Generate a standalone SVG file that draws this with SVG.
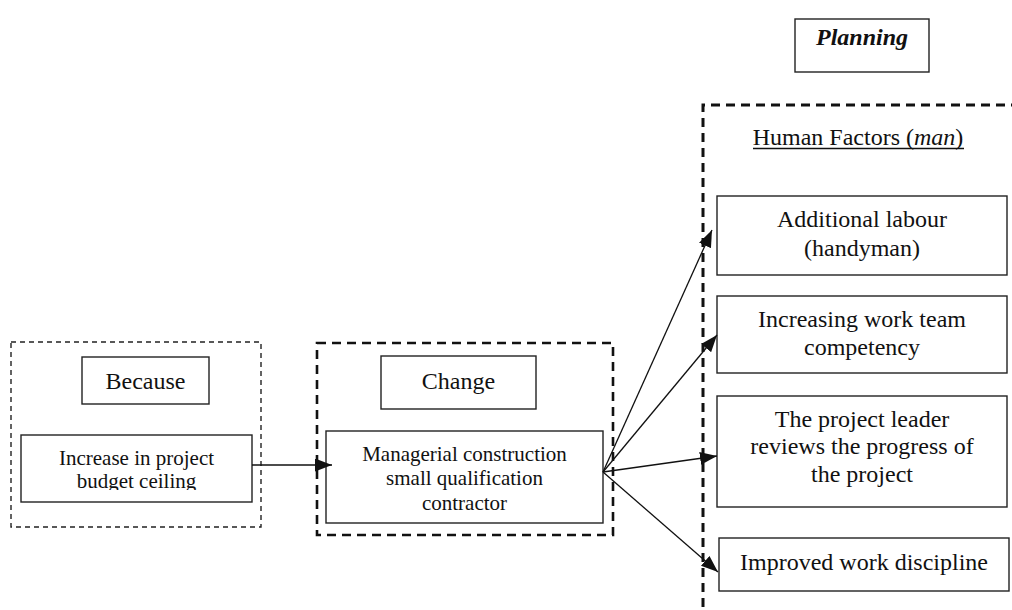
<svg xmlns="http://www.w3.org/2000/svg" width="1012" height="610" viewBox="0 0 1012 610">
<style>
.box{fill:#fff;stroke:#222;stroke-width:1.4}
.t{font-family:"Liberation Serif","Times New Roman",serif;fill:#111;text-anchor:middle}
.s21{font-size:21px}
.s24{font-size:24px}
.conn{stroke:#111;stroke-width:1.3;fill:none}
</style>
<defs>
<marker id="ah" markerUnits="userSpaceOnUse" markerWidth="17" markerHeight="13" refX="17" refY="6.5" orient="auto">
<path d="M0,0 L17,6.5 L0,13 z" fill="#111"/>
</marker>
<clipPath id="clipInc"><rect x="21" y="435" width="231" height="55"/></clipPath>
</defs>
<rect width="1012" height="610" fill="#fff"/>

<g id="because-group">
<rect x="11" y="342" width="250" height="185" fill="none" stroke="#222" stroke-width="1.4" stroke-dasharray="5,4"/>
</g>
<g id="because">
<rect class="box" x="82" y="357" width="127" height="47"/>
<text class="t s24" x="145.5" y="389">Because</text>
</g>
<g id="increase">
<rect class="box" x="21" y="435" width="231" height="67"/>
<g clip-path="url(#clipInc)">
<text class="t s21" x="136.5" y="465">Increase in project</text>
<text class="t s21" x="136.5" y="488">budget ceiling</text>
</g>
</g>

<g id="change-group">
<rect x="317" y="343" width="296" height="192" fill="none" stroke="#111" stroke-width="2.6" stroke-dasharray="9,6"/>
</g>
<g id="change">
<rect class="box" x="381" y="356" width="155" height="53"/>
<text class="t s24" x="458.5" y="389">Change</text>
</g>
<g id="managerial">
<rect class="box" x="326" y="431" width="277" height="92"/>
<text class="t s21" x="464.5" y="461">Managerial construction</text>
<text class="t s21" x="464.5" y="485">small qualification</text>
<text class="t s21" x="464.5" y="510">contractor</text>
</g>

<g id="planning">
<rect class="box" x="795" y="19" width="134" height="53"/>
<text class="t s24" x="862" y="45" font-weight="bold" font-style="italic">Planning</text>
</g>

<g id="human-factors-group">
<path d="M1020,105 H703 V612" fill="none" stroke="#111" stroke-width="3" stroke-dasharray="9,6"/>
<text class="t s24" x="858" y="145">Human Factors (<tspan font-style="italic">man</tspan>)</text>
<line x1="753" y1="148.5" x2="964" y2="148.5" stroke="#111" stroke-width="1.3"/>
</g>
<g id="labour">
<rect class="box" x="717" y="196" width="290" height="79"/>
<text class="t s24" x="862" y="227">Additional labour</text>
<text class="t s24" x="862" y="256">(handyman)</text>
</g>
<g id="competency">
<rect class="box" x="717" y="296" width="290" height="77"/>
<text class="t s24" x="862" y="327">Increasing work team</text>
<text class="t s24" x="862" y="355">competency</text>
</g>
<g id="leader">
<rect class="box" x="717" y="396" width="290" height="111"/>
<text class="t s24" x="862" y="427">The project leader</text>
<text class="t s24" x="862" y="454">reviews the progress of</text>
<text class="t s24" x="862" y="482">the project</text>
</g>
<g id="discipline">
<rect class="box" x="719" y="538" width="290" height="53"/>
<text class="t s24" x="864" y="570">Improved work discipline</text>
</g>

<g id="connectors">
<line class="conn" x1="252" y1="465" x2="332" y2="465" marker-end="url(#ah)"/>
<line class="conn" x1="603" y1="472" x2="712" y2="230" marker-end="url(#ah)"/>
<line class="conn" x1="603" y1="472" x2="717" y2="335" marker-end="url(#ah)"/>
<line class="conn" x1="603" y1="472" x2="717" y2="456" marker-end="url(#ah)"/>
<line class="conn" x1="603" y1="472" x2="718" y2="572" marker-end="url(#ah)"/>
</g>
</svg>
